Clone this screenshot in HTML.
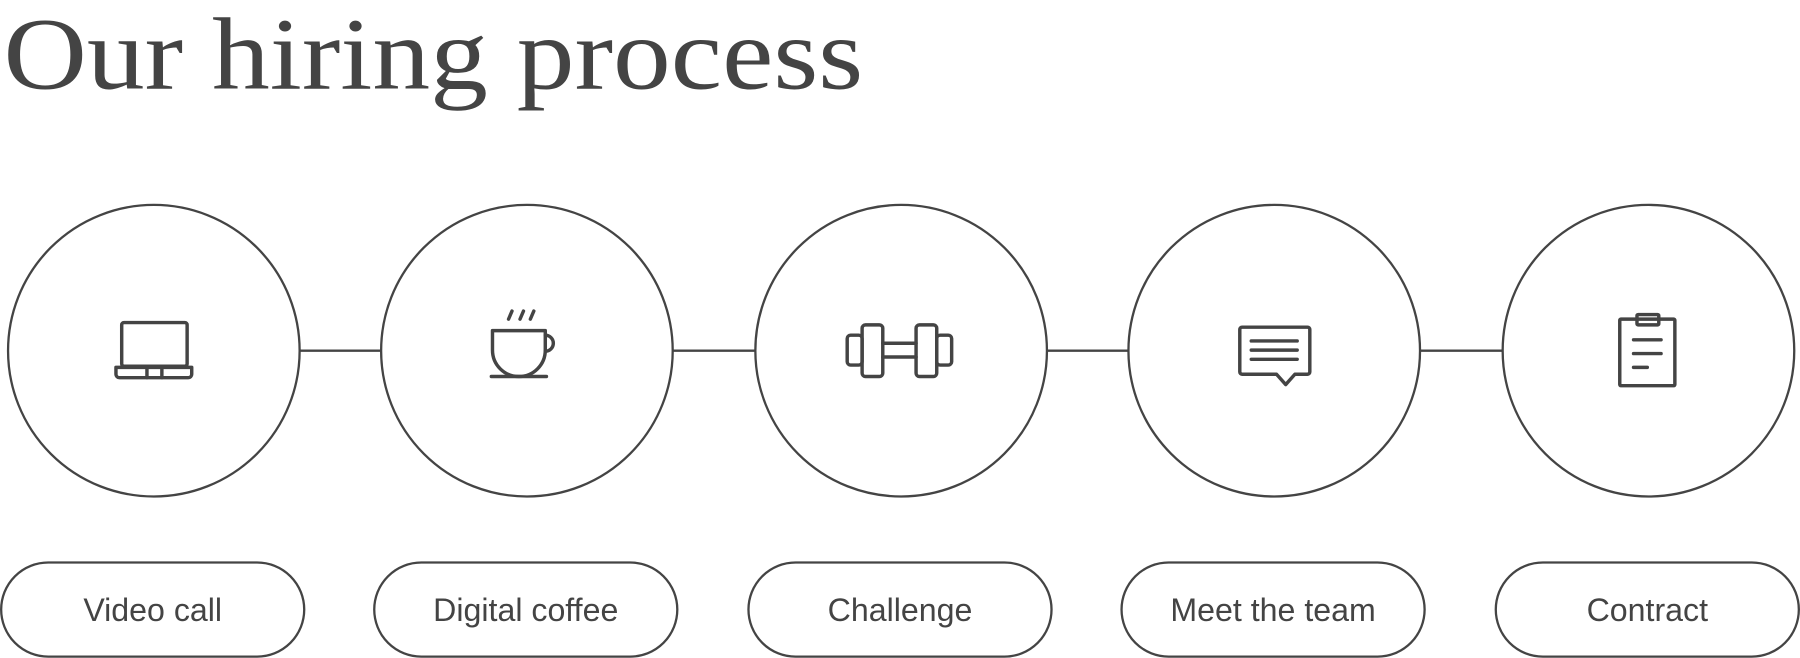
<!DOCTYPE html>
<html><head><meta charset="utf-8"><style>
html,body{margin:0;padding:0;background:#fff;width:1800px;height:658px;overflow:hidden}
svg{display:block}
</style></head><body>
<svg width="1800" height="658" viewBox="0 0 1568 573.2" xmlns="http://www.w3.org/2000/svg">
<text x="3" y="77" font-family="Liberation Serif, serif" font-size="90" fill="#444" textLength="749" lengthAdjust="spacingAndGlyphs">Our hiring process</text>
<g stroke="#444" stroke-width="2" fill="none">
<line x1="261" y1="305.5" x2="332" y2="305.5"/>
<line x1="586" y1="305.5" x2="658" y2="305.5"/>
<line x1="912" y1="305.5" x2="983" y2="305.5"/>
<line x1="1237" y1="305.5" x2="1309" y2="305.5"/>
<circle cx="134" cy="305.5" r="127"/>
<circle cx="459" cy="305.5" r="127"/>
<circle cx="785" cy="305.5" r="127"/>
<circle cx="1110" cy="305.5" r="127"/>
<circle cx="1436" cy="305.5" r="127"/>
<rect x="1" y="490" width="264" height="82" rx="41"/>
<rect x="326" y="490" width="264" height="82" rx="41"/>
<rect x="652" y="490" width="264" height="82" rx="41"/>
<rect x="977" y="490" width="264" height="82" rx="41"/>
<rect x="1303" y="490" width="264" height="82" rx="41"/>
</g>
<g stroke="#444" stroke-width="3" fill="none" stroke-linecap="round" stroke-linejoin="round">
<rect x="106" y="281" width="57" height="38" rx="2"/>
<path d="M101 320 H167 V326 a3 3 0 0 1 -3 3 H104 a3 3 0 0 1 -3 -3 Z"/>
<path d="M128 320 V329 M141 320 V329"/>
<path d="M429 288 H475 V305 a23 23 0 0 1 -46 0 Z"/>
<path d="M475 292 a7 7 0 0 1 0 14"/>
<path d="M428 328 H476"/>
<path d="M443 278 L446 271 M453 278 L456 271 M462 278 L465 271"/>
<rect x="751" y="283" width="18" height="45" rx="3"/>
<rect x="798" y="283" width="18" height="45" rx="3"/>
<rect x="738" y="292" width="13" height="26" rx="3"/>
<rect x="816" y="292" width="13" height="26" rx="3"/>
<path d="M769 299 H798 M769 311 H798"/>
<path d="M1082 285 H1139 a2 2 0 0 1 2 2 V324 a2 2 0 0 1 -2 2 H1128 L1120 335 L1112 326 H1082 a2 2 0 0 1 -2 -2 V287 a2 2 0 0 1 2 -2 Z"/>
<path d="M1090 297 H1130 M1090 305 H1130 M1090 313 H1130"/>
<rect x="1411" y="278" width="48" height="58" rx="1"/>
<rect x="1426" y="274" width="19" height="9" rx="1"/>
<path d="M1423 296 H1447 M1423 308 H1447 M1423 320 H1435"/>
</g>
<g font-family="Liberation Sans, sans-serif" font-size="28" fill="#444" text-anchor="middle">
<text x="133" y="541">Video call</text>
<text x="458" y="541">Digital coffee</text>
<text x="784" y="541">Challenge</text>
<text x="1109" y="541">Meet the team</text>
<text x="1435" y="541">Contract</text>
</g>
</svg>
</body></html>
